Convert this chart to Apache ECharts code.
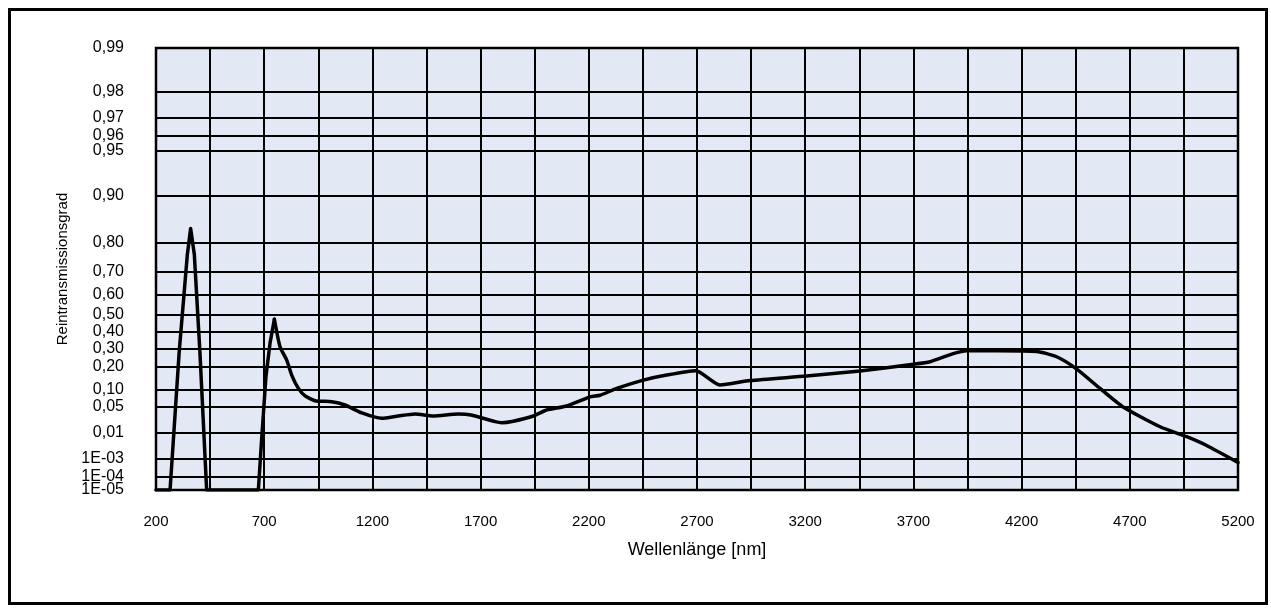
<!DOCTYPE html>
<html><head><meta charset="utf-8">
<script src="https://cdn.jsdelivr.net/npm/echarts@6/dist/echarts.min.js"></script>
<style>html,body{margin:0;padding:0;background:#fff}#c{width:1271px;height:608px}</style>
</head><body><div id="c"></div>
<script>
// ---- data ----
const wavelengths = [200, 265, 307, 345, 360, 377, 403, 434, 673, 688, 708, 727, 747, 773, 804, 827, 858, 889, 935, 1012, 1073, 1151, 1243, 1320, 1397, 1481, 1597, 1656, 1767, 1798, 1851, 1944, 2005, 2098, 2206, 2252, 2329, 2452, 2560, 2695, 2806, 2945, 3207, 3453, 3700, 3777, 3884, 3946, 4085, 4270, 4362, 4455, 4562, 4669, 4840, 4963, 5055, 5200];
const transmission = [1e-5, 1e-5, 0.28, 0.76, 0.83, 0.76, 0.28, 1e-5, 1e-5, 0.0054, 0.158, 0.334, 0.475, 0.312, 0.238, 0.165, 0.107, 0.082, 0.067, 0.064, 0.054, 0.040, 0.032, 0.0355, 0.0385, 0.0355, 0.0385, 0.037, 0.027, 0.0254, 0.0277, 0.0355, 0.0445, 0.051, 0.079, 0.084, 0.107, 0.143, 0.165, 0.184, 0.122, 0.141, 0.161, 0.183, 0.215, 0.229, 0.273, 0.289, 0.289, 0.285, 0.256, 0.191, 0.107, 0.049, 0.0194, 0.0072, 0.0033, 0.00063];
const xTickLabels = [200, 700, 1200, 1700, 2200, 2700, 3200, 3700, 4200, 4700, 5200];
const xGridValues = [200,450,700,950,1200,1450,1700,1950,2200,2450,2700,2950,3200,3450,3700,3950,4200,4450,4700,4950,5200];
const yTickValues = [1e-5, 1e-4, 1e-3, 0.01, 0.05, 0.10, 0.20, 0.30, 0.40, 0.50, 0.60, 0.70, 0.80, 0.90, 0.95, 0.96, 0.97, 0.98, 0.99];
const yTickLabels = ['1E-05','1E-04','1E-03','0,01','0,05','0,10','0,20','0,30','0,40','0,50','0,60','0,70','0,80','0,90','0,95','0,96','0,97','0,98','0,99'];
// scale definition of the special (non-uniform) y axis: axis coordinate of each tick value
const yScaleSteps = [0, 13.3, 31, 57, 83.7, 100, 123, 141.3, 158, 175, 195.5, 218.3, 247.5, 294.3, 339.3, 354, 372.3, 398.3, 442];

function toAxis(v) {
  const n = yTickValues.length;
  if (v <= yTickValues[0]) return yScaleSteps[0];
  for (let i = 0; i < n - 1; i++) {
    const lo = yTickValues[i], hi = yTickValues[i + 1];
    if (v <= hi) {
      const f = lo >= 0.01 ? (v - lo) / (hi - lo)
        : (Math.log10(v) - Math.log10(lo)) / (Math.log10(hi) - Math.log10(lo));
      return yScaleSteps[i] + f * (yScaleSteps[i + 1] - yScaleSteps[i]);
    }
  }
  return yScaleSteps[n - 1];
}
const seriesData = wavelengths.map((w, i) => [w, toAxis(transmission[i])]);
// sharp peaks (up to the 747 nm maximum) drawn unsmoothed, the rest with gentle smoothing
const peakEnd = wavelengths.indexOf(747);
const sharpPart = seriesData.slice(0, peakEnd + 1);
const smoothPart = seriesData.slice(peakEnd);

function labelFor(val) {
  let best = 0, d = Infinity;
  yScaleSteps.forEach((p, i) => { const dd = Math.abs(p - val); if (dd < d) { d = dd; best = i; } });
  return yTickLabels[best];
}
// labels split over two axes so that the tightly packed 1E-04 / 1E-05 pair both stay visible
const mainLabelPos = yScaleSteps.filter((p, i) => i !== 1);
const extraLabelPos = [yScaleSteps[1]];

const font = 'Liberation Sans, Arial, sans-serif';
const yLabelStyle = {margin: 32, fontFamily: font, fontSize: 16, color: '#000',
  showMinLabel: true, showMaxLabel: true, hideOverlap: false, formatter: labelFor};
const lineStyle = {color: '#000', width: 3.5, join: 'round', cap: 'round'};
const chart = echarts.init(document.getElementById('c'), null, {renderer: 'canvas'});
chart.setOption({
  animation: false,
  backgroundColor: '#fff',
  graphic: [{
    type: 'rect', left: 7, top: 7, z: 100,
    shape: {width: 1257, height: 594},
    style: {fill: 'none', stroke: '#000', lineWidth: 3}
  }],
  grid: {left: 156, top: 48, width: 1082, height: 442, show: true,
    backgroundColor: '#E2E8F4', borderColor: '#000', borderWidth: 2.5, containLabel: false},
  xAxis: {
    type: 'value', min: 200, max: 5200,
    name: 'Wellenlänge [nm]', nameLocation: 'middle', nameGap: 51,
    nameTextStyle: {fontFamily: font, fontSize: 18, color: '#000'},
    axisLine: {show: false},
    axisTick: {show: false, customValues: xGridValues},
    axisLabel: {customValues: xTickLabels, margin: 24, fontFamily: font, fontSize: 15, color: '#000',
      showMinLabel: true, showMaxLabel: true, hideOverlap: false,
      formatter: v => String(v)},
    splitLine: {show: true, lineStyle: {color: '#000', width: 2}}
  },
  yAxis: [{
    type: 'value', min: 0, max: 442, position: 'left',
    name: 'Reintransmissionsgrad', nameLocation: 'middle', nameGap: 85,
    nameTextStyle: {fontFamily: font, fontSize: 15, color: '#000'},
    axisLine: {show: false},
    axisTick: {show: false, customValues: yScaleSteps},
    axisLabel: Object.assign({customValues: mainLabelPos}, yLabelStyle),
    splitLine: {show: true, lineStyle: {color: '#000', width: 2}}
  }, {
    type: 'value', min: 0, max: 442, position: 'left', offset: 0,
    axisLine: {show: false},
    axisTick: {show: false, customValues: extraLabelPos},
    axisLabel: Object.assign({customValues: extraLabelPos}, yLabelStyle),
    splitLine: {show: false}
  }],
  series: [{
    type: 'line', data: sharpPart, showSymbol: false, smooth: false,
    lineStyle: lineStyle, clip: true, z: 10
  }, {
    type: 'line', data: smoothPart, showSymbol: false, smooth: 0.2,
    lineStyle: lineStyle, clip: true, z: 10
  }]
});
</script></body></html>
